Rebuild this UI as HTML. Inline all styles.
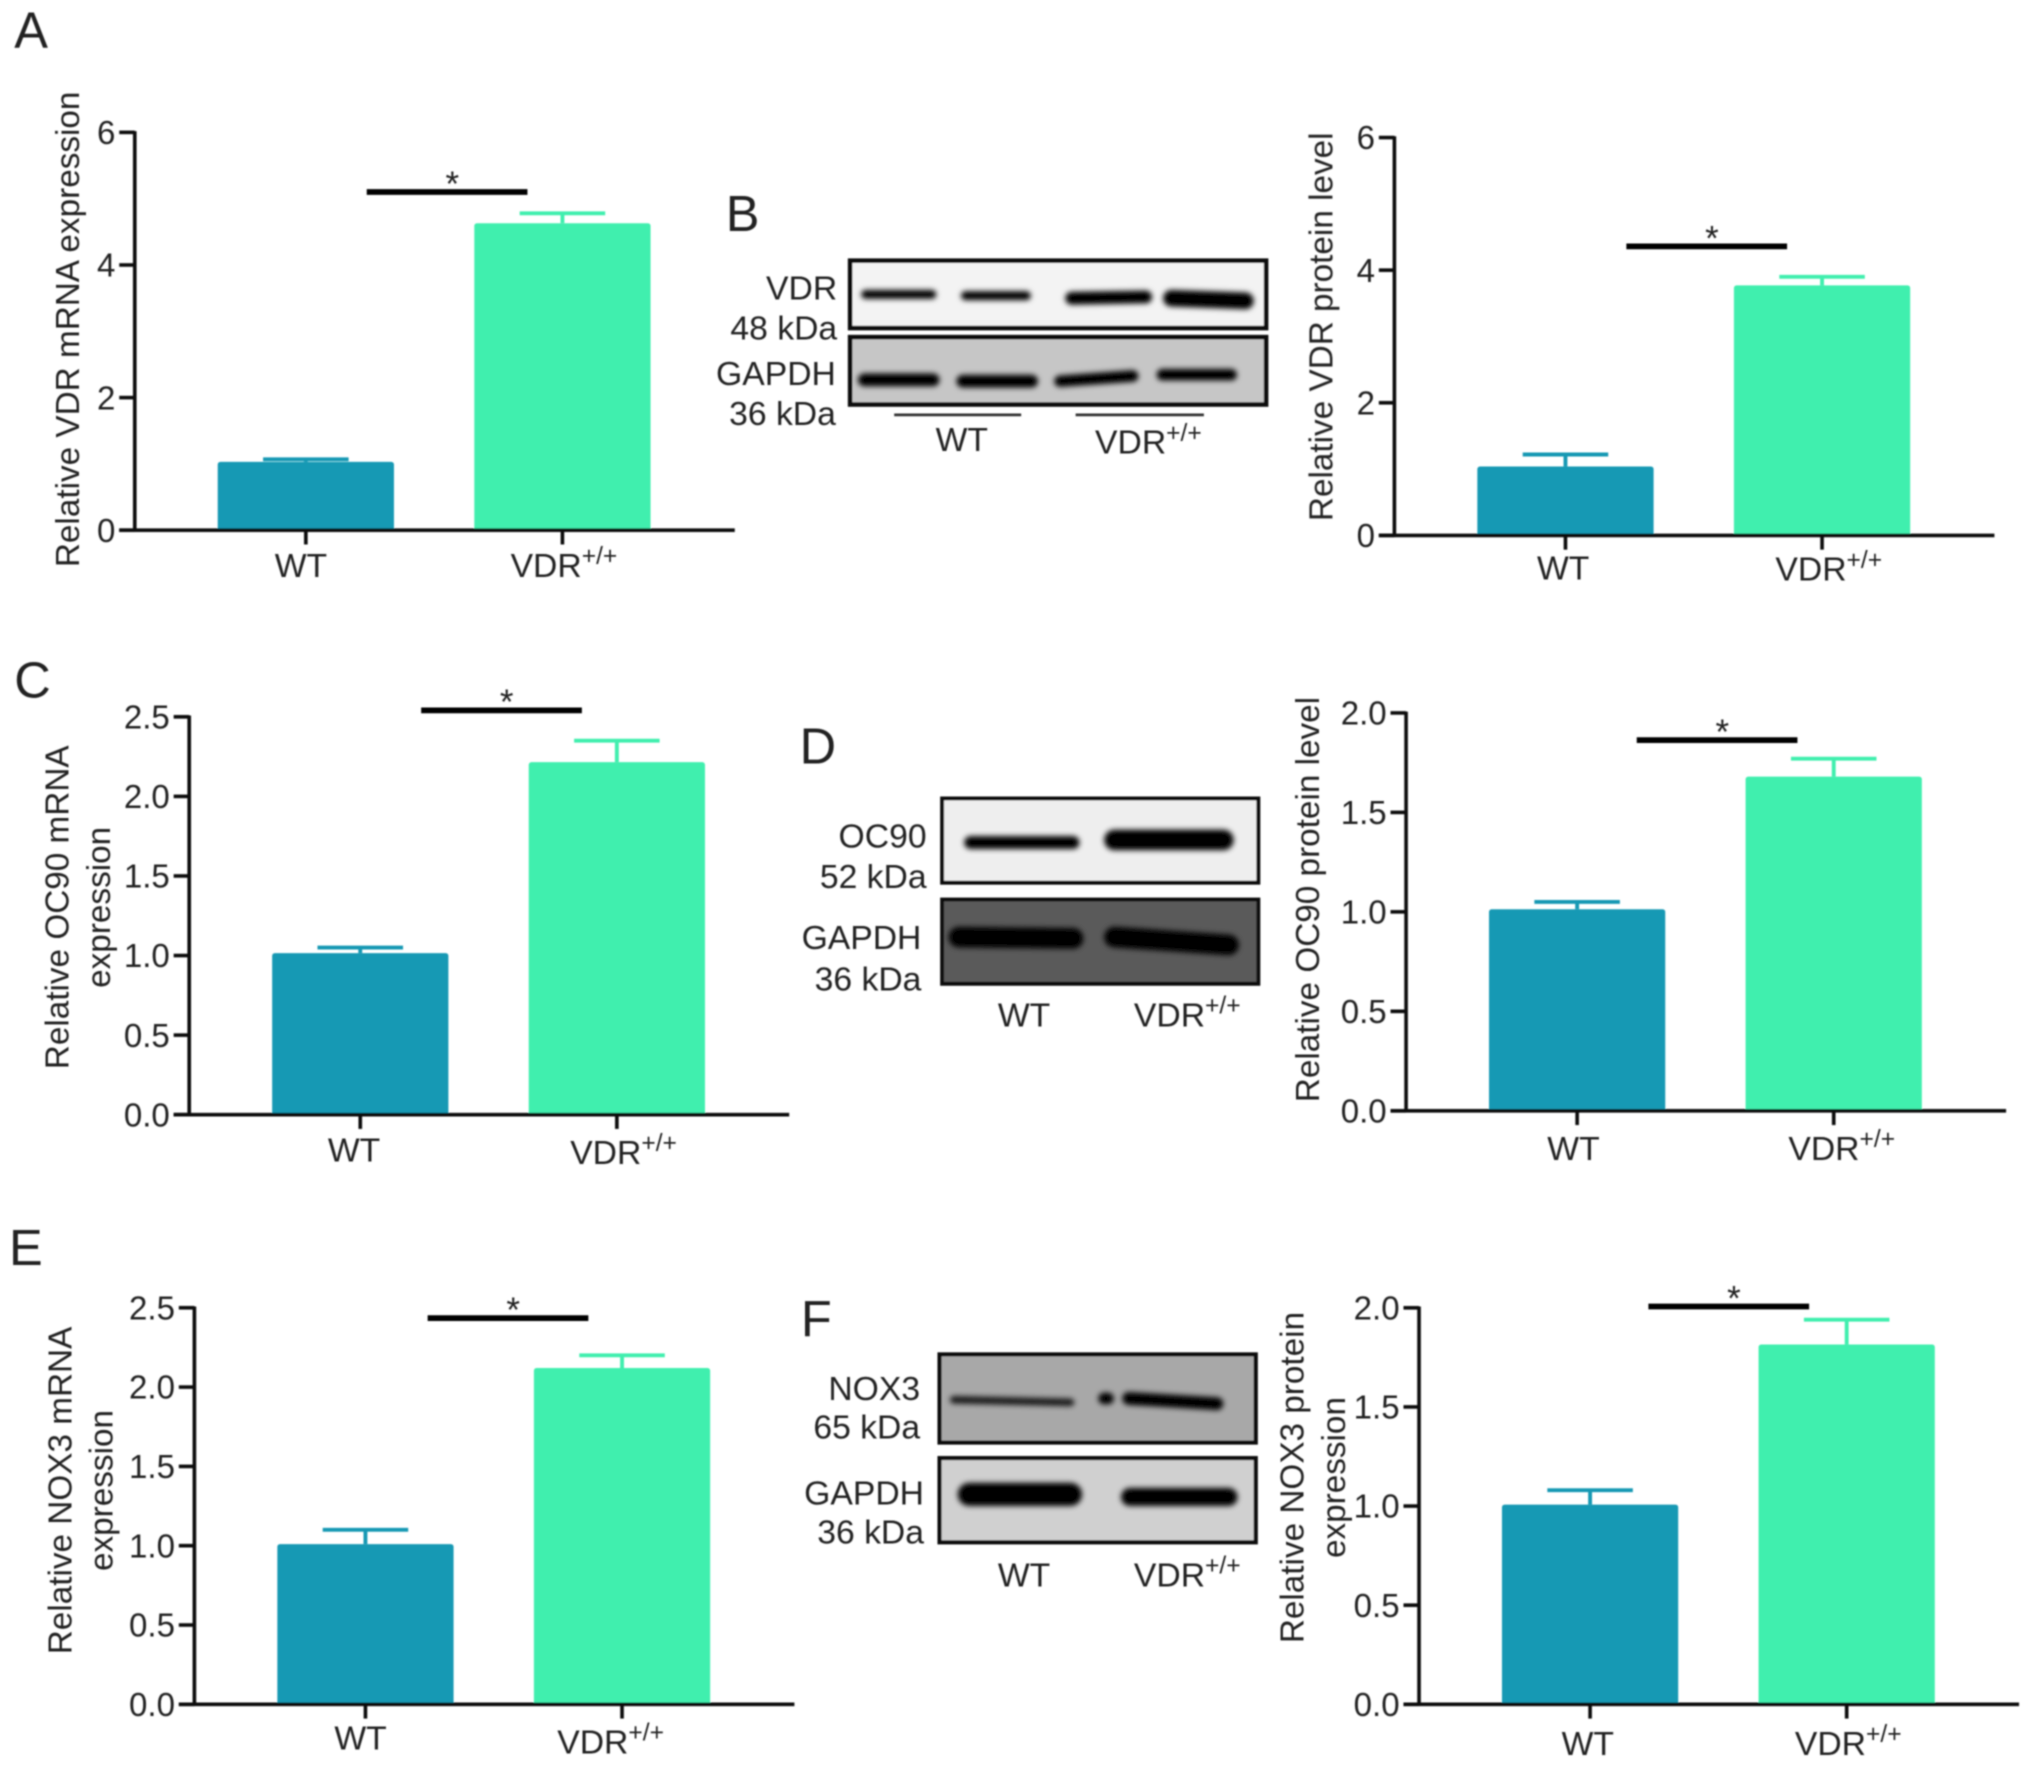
<!DOCTYPE html>
<html lang="en">
<head>
<meta charset="utf-8">
<title>VDR, OC90 and NOX3 expression</title>
<style>
html,body{margin:0;padding:0;background:#fff;width:2032px;height:1768px;overflow:hidden}
svg{display:block}
text{font-family:"Liberation Sans",sans-serif;fill:#222}
</style>
</head>
<body>
<svg id="fig" xmlns="http://www.w3.org/2000/svg" width="2032" height="1768" viewBox="0 0 1568 1364">
<defs>
<filter id="soft" filterUnits="userSpaceOnUse" x="0" y="0" width="1568" height="1364"><feGaussianBlur stdDeviation="0.55"/></filter>
<filter id="bandblur" filterUnits="userSpaceOnUse" x="0" y="0" width="1568" height="1364"><feGaussianBlur stdDeviation="2"/></filter>
</defs>
<rect width="1568" height="1364" fill="#fff"/>
<g id="root" filter="url(#soft)">

<g font-size="39">
<text x="11" y="37">A</text>
<text x="560" y="178">B</text>
<text x="11" y="538">C</text>
<text x="617" y="589">D</text>
<text x="7" y="976">E</text>
<text x="618" y="1031">F</text>
</g>

<g>
<rect x="656" y="201" width="321" height="52" fill="#f3f3f3" stroke="#0a0a0a" stroke-width="3.5"/>
<g filter="url(#bandblur)" stroke="#000" stroke-linecap="round">
<line x1="668" y1="227" x2="719" y2="227" stroke-width="7"/>
<line x1="745" y1="228" x2="792" y2="228" stroke-width="7"/>
<line x1="827" y1="230" x2="884" y2="229" stroke-width="10"/>
<line x1="904" y1="230" x2="961" y2="232" stroke-width="13"/>
</g>
<rect x="656" y="260" width="321" height="52" fill="#c6c6c6" stroke="#0a0a0a" stroke-width="3.5"/>
<g filter="url(#bandblur)" stroke="#000" stroke-linecap="round">
<line x1="667" y1="293" x2="720" y2="293" stroke-width="10"/>
<line x1="743" y1="294" x2="796" y2="294" stroke-width="10"/>
<line x1="818" y1="294" x2="874" y2="290" stroke-width="9"/>
<line x1="897" y1="289" x2="950" y2="289" stroke-width="9"/>
</g>
<g font-size="26" text-anchor="end">
<text x="646" y="231">VDR</text>
<text x="646" y="262">48 kDa</text>
<text x="645" y="297">GAPDH</text>
<text x="645" y="328">36 kDa</text>
</g>
<line x1="690" y1="320" x2="788" y2="320" stroke="#333" stroke-width="2.2"/>
<line x1="830" y1="320" x2="929" y2="320" stroke="#333" stroke-width="2.2"/>
<text x="722" y="348" font-size="26">WT</text>
<text x="845" y="350" font-size="26">VDR<tspan font-size="19" dy="-10">+/+</tspan></text>
</g>

<g>
<rect x="727" y="616" width="244" height="65" fill="#eeeeee" stroke="#0a0a0a" stroke-width="3"/>
<g filter="url(#bandblur)" stroke="#000" stroke-linecap="round">
<line x1="749" y1="650" x2="828" y2="650" stroke-width="10"/>
<line x1="860" y1="648" x2="944" y2="648" stroke-width="16"/>
</g>
<rect x="727" y="694" width="244" height="65" fill="#5a5a5a" stroke="#0a0a0a" stroke-width="3"/>
<g filter="url(#bandblur)" stroke="#000" stroke-linecap="round">
<line x1="740" y1="723" x2="828" y2="724" stroke-width="16"/>
<line x1="860" y1="723" x2="948" y2="729" stroke-width="16"/>
</g>
<g font-size="26" text-anchor="end">
<text x="715" y="654">OC90</text>
<text x="715" y="685">52 kDa</text>
<text x="711" y="732">GAPDH</text>
<text x="711" y="764">36 kDa</text>
</g>
<text x="770" y="792" font-size="26">WT</text>
<text x="875" y="792" font-size="26">VDR<tspan font-size="19" dy="-10">+/+</tspan></text>
</g>

<g>
<rect x="725" y="1045" width="244" height="68" fill="#a8a8a8" stroke="#0a0a0a" stroke-width="3.2"/>
<g filter="url(#bandblur)" stroke="#000" stroke-linecap="round">
<line x1="736" y1="1080" x2="826" y2="1082" stroke-width="6" stroke-opacity=".85"/>
<line x1="852" y1="1079" x2="855" y2="1079" stroke-width="9"/>
<line x1="871" y1="1079" x2="939" y2="1083" stroke-width="10"/>
</g>
<rect x="725" y="1125" width="244" height="65" fill="#d0d0d0" stroke="#0a0a0a" stroke-width="3.2"/>
<g filter="url(#bandblur)" stroke="#000" stroke-linecap="round">
<line x1="748" y1="1153" x2="826" y2="1153" stroke-width="18"/>
<line x1="872" y1="1155" x2="948" y2="1155" stroke-width="14"/>
</g>
<g font-size="26" text-anchor="end">
<text x="710" y="1080">NOX3</text>
<text x="710" y="1110">65 kDa</text>
<text x="713" y="1161">GAPDH</text>
<text x="713" y="1191">36 kDa</text>
</g>
<text x="770" y="1224" font-size="26">WT</text>
<text x="875" y="1224" font-size="26">VDR<tspan font-size="19" dy="-10">+/+</tspan></text>
</g>

<g id="charts"></g>
</g>
</svg>

<script>
// Chart data
const categories = ["WT", "VDR"];
const categorySuperscripts = ["", "+/+"];
const ticksSix = ["0", "2", "4", "6"];
const ticksRnaFold = ["0.0", "0.5", "1.0", "1.5", "2.0", "2.5"];
const ticksProteinFold = ["0.0", "0.5", "1.0", "1.5", "2.0"];

const vdrMrnaMeans = [1.03, 4.63];
const vdrMrnaUpper = [1.07, 4.78];
const vdrProteinMeans = [1.04, 3.77];
const vdrProteinUpper = [1.22, 3.9];
const oc90MrnaMeans = [1.015, 2.215];
const oc90MrnaUpper = [1.05, 2.35];
const oc90ProteinMeans = [1.013, 1.68];
const oc90ProteinUpper = [1.05, 1.77];
const nox3MrnaMeans = [1.01, 2.12];
const nox3MrnaUpper = [1.1, 2.2];
const nox3ProteinMeans = [1.007, 1.815];
const nox3ProteinUpper = [1.08, 1.94];

const titleVdrMrna = ["Relative VDR mRNA expression"];
const titleVdrProtein = ["Relative VDR protein level"];
const titleOc90Mrna = ["Relative OC90 mRNA", "expression"];
const titleOc90Protein = ["Relative OC90 protein level"];
const titleNox3Mrna = ["Relative NOX3 mRNA", "expression"];
const titleNox3Protein = ["Relative NOX3 protein", "expression"];

const COLORS = ["#1299b4", "#41efae"];
const SVGNS = "http://www.w3.org/2000/svg";
const host = document.getElementById("charts");

function make(tag, attrs, parent) {
  const n = document.createElementNS(SVGNS, tag);
  for (const k in attrs) n.setAttribute(k, attrs[k]);
  parent.appendChild(n);
  return n;
}

function drawChart(p) {
  const g = make("g", {}, host);
  
  

  const maxV = Number(p.ticks[p.ticks.length - 1]);
  const yScale = v => p.y0 - (v / maxV) * (p.y0 - p.yTop);
  const xScale = i => p.axisX + 132 + i * 198;   // bar centre
  const BAR_W = 136, CAP = 33;

  // bars and error bars
  p.means.forEach((m, i) => {
    const cx = xScale(i);
    const err = make("line", {x1: cx, x2: cx, y1: yScale(m), y2: yScale(p.upper[i]), stroke: COLORS[i], "stroke-width": 3}, g);
    
    
    const cap = make("line", {x1: cx - CAP, x2: cx + CAP, y1: yScale(p.upper[i]), y2: yScale(p.upper[i]), stroke: COLORS[i], "stroke-width": 3}, g);
    
    
    const bar = make("rect", {x: cx - BAR_W / 2, y: yScale(m), width: BAR_W, height: p.y0 - yScale(m), rx: 2, fill: COLORS[i]}, g);
    
    
  });

  // axes
  const yAxis = make("line", {x1: p.axisX, x2: p.axisX, y1: p.yTop - 1, y2: p.y0 + 1, stroke: "#111", "stroke-width": 2.8}, g);
  
  
  const xAxis = make("line", {x1: p.axisX - 12, x2: p.axisX + 463, y1: p.y0, y2: p.y0, stroke: "#111", "stroke-width": 2.8}, g);
  
  

  // y ticks
  p.ticks.forEach(t => {
    const y = yScale(Number(t));
    const tick = make("line", {x1: p.axisX - 12, x2: p.axisX, y1: y, y2: y, stroke: "#111", "stroke-width": 2.8}, g);
    
    
    const lab = make("text", {x: p.axisX - 15, y: y + 9, "text-anchor": "end", "font-size": 25.5}, g);
    lab.textContent = t;
    
    
  });

  // x ticks and labels
  categories.forEach((c, i) => {
    const cx = xScale(i);
    const tick = make("line", {x1: cx, x2: cx, y1: p.y0, y2: p.y0 + 11, stroke: "#111", "stroke-width": 2.8}, g);
    
    
    const lab = make("text", {x: p.labelX[i], y: p.labelY[i], "font-size": 26}, g);
    lab.textContent = c;
    
    
    if (categorySuperscripts[i]) {
      const sup = make("tspan", {"font-size": 19, dy: -10}, lab);
      sup.textContent = categorySuperscripts[i];
    }
  });

  // y title
  p.title.forEach((line, i) => {
    const tx = p.titleX[i];
    const t = make("text", {x: tx, y: p.titleY, "text-anchor": "middle", "font-size": 25.7, transform: "rotate(-90 " + tx + " " + p.titleY + ")"}, g);
    t.textContent = line;
    
    
  });

  // significance
  const sig = make("line", {x1: p.sig[0], x2: p.sig[1], y1: p.sig[2], y2: p.sig[2], stroke: "#000", "stroke-width": 4.4}, g);
  
  
  const star = make("text", {x: (p.sig[0] + p.sig[1]) / 2 + 4, y: p.sig[2] + 3, "text-anchor": "middle", "font-size": 27, fill: "#444"}, g);
  star.textContent = "*";
  
  
}

drawChart({id:"vdr-mrna", axisX:104, y0:409, yTop:102, ticks:ticksSix, means:vdrMrnaMeans, upper:vdrMrnaUpper,
  title:titleVdrMrna, titleX:[61], titleY:254, labelX:[212,394], labelY:[445,445], sig:[283,407,148]});
drawChart({id:"vdr-protein", axisX:1076, y0:413, yTop:106, ticks:ticksSix, means:vdrProteinMeans, upper:vdrProteinUpper,
  title:titleVdrProtein, titleX:[1028], titleY:252, labelX:[1186,1370], labelY:[447,448], sig:[1255,1379,190]});
drawChart({id:"oc90-mrna", axisX:146, y0:860, yTop:553, ticks:ticksRnaFold, means:oc90MrnaMeans, upper:oc90MrnaUpper,
  title:titleOc90Mrna, titleX:[53,85], titleY:700, labelX:[253,440], labelY:[896,898], sig:[325,449,548]});
drawChart({id:"oc90-protein", axisX:1085, y0:857, yTop:550, ticks:ticksProteinFold, means:oc90ProteinMeans, upper:oc90ProteinUpper,
  title:titleOc90Protein, titleX:[1018], titleY:694, labelX:[1194,1380], labelY:[895,895], sig:[1263,1387,571]});
drawChart({id:"nox3-mrna", axisX:150, y0:1315, yTop:1009, ticks:ticksRnaFold, means:nox3MrnaMeans, upper:nox3MrnaUpper,
  title:titleNox3Mrna, titleX:[55,87], titleY:1150, labelX:[258,430], labelY:[1350,1353], sig:[330,454,1017]});
drawChart({id:"nox3-protein", axisX:1095, y0:1315, yTop:1009, ticks:ticksProteinFold, means:nox3ProteinMeans, upper:nox3ProteinUpper,
  title:titleNox3Protein, titleX:[1006,1038], titleY:1140, labelX:[1205,1385], labelY:[1354,1354], sig:[1272,1396,1008]});
</script>
</body>
</html>
